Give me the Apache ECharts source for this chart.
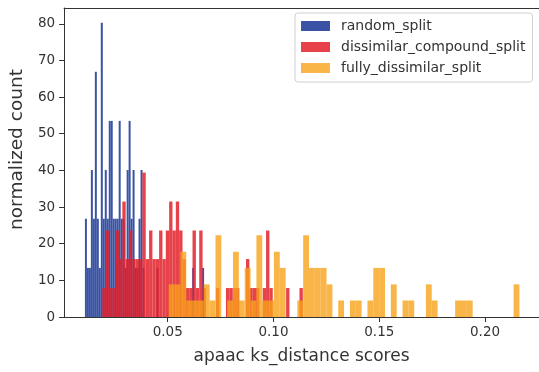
<!DOCTYPE html>
<html>
<head>
<meta charset="utf-8">
<script src="https://cdn.jsdelivr.net/npm/echarts@6/dist/echarts.min.js"></script>
<style>html,body{margin:0;padding:0;background:#fff}#c{width:539px;height:372px}</style>
</head>
<body>
<div id="c"></div>
<script>
// Series names
const seriesNames = ['random_split', 'dissimilar_compound_split', 'fully_dissimilar_split'];

// Histogram bins: first edge and bin width (x units = ks distance)
const randomStart = 0.01085, randomWidth = 0.000939;
const compoundStart = 0.01906, compoundWidth = 0.00158;
const fullyStart = 0.05047, fullyWidth = 0.002763;

// Normalized counts per bin (60 bins each)
const randomHeights = [26.8,13.4,13.4,40.1,26.8,66.9,26.8,13.4,80.3,26.8,
  40.1,26.8,53.5,53.5,26.8,26.8,26.8,53.5,26.8,26.8,
  13.4,40.1,53.5,26.8,40.1,13.4,13.4,26.8,40.1,13.4,
  0,0,0,0,0,0,13.4,0,0,0,
  0,0,0,0,0,0,0,0,0,0,
  0,0,0,0,13.4,0,0,0,0,13.4];
const compoundHeights = [7.9,23.6,7.9,7.9,23.6,15.8,31.5,15.8,23.6,15.8,
  15.8,15.8,39.4,15.8,23.6,15.8,15.8,23.6,15.8,23.6,
  31.5,23.6,31.5,23.6,15.8,7.9,7.9,23.6,7.9,23.6,
  7.9,0,0,0,7.9,0,0,7.9,7.9,7.9,
  7.9,0,0,15.8,7.9,7.9,7.9,0,7.9,23.6,
  7.9,0,0,0,0,7.9,0,0,0,7.9];
const fullyHeights = [8.9,8.9,17.8,4.5,4.5,4.5,8.9,4.5,22.3,0,
  4.5,17.8,4.5,13.4,4.5,22.3,4.5,4.5,17.8,13.4,
  0,0,4.5,22.3,13.4,13.4,13.4,8.9,0,4.5,
  0,4.5,4.5,0,4.5,13.4,13.4,0,8.9,0,
  4.5,4.5,0,0,8.9,4.5,0,0,0,4.5,
  4.5,4.5,0,0,0,0,0,0,0,8.9];

// Axis ticks
const xTicks = [0.05, 0.10, 0.15, 0.20];
const yTicks = [0, 10, 20, 30, 40, 50, 60, 70, 80];

function toBins(start, width, heights) {
  return heights.map((h, i) => [start + i * width, start + (i + 1) * width, h]);
}

const colors = ['#3a53a4', '#e3202a', '#f7a31a'];
const opac = [1, 0.85, 0.8];

function renderItem(params, api) {
  const p0 = api.coord([api.value(0), api.value(2)]);
  const p1 = api.coord([api.value(1), 0]);
  return {
    type: 'rect',
    shape: { x: p0[0], y: p0[1], width: p1[0] - p0[0], height: p1[1] - p0[1] },
    style: api.style()
  };
}

const datasets = [
  toBins(randomStart, randomWidth, randomHeights),
  toBins(compoundStart, compoundWidth, compoundHeights),
  toBins(fullyStart, fullyWidth, fullyHeights)
];

const font = 'DejaVu Sans';
const chart = echarts.init(document.getElementById('c'), null, { renderer: 'canvas' });
chart.setOption({
  animation: false,
  textStyle: { fontFamily: font },
  grid: { left: 63, right: 0, top: 8, bottom: 55 },
  legend: {
    orient: 'vertical',
    left: 295, top: 13,
    padding: [5, 7, 6, 6],
    itemWidth: 29, itemHeight: 10, itemGap: 5,
    borderColor: '#d0d0d0', borderWidth: 1, borderRadius: 3,
    backgroundColor: 'rgba(255,255,255,0.8)',
    icon: 'rect',
    textStyle: { fontFamily: font, fontSize: 14, color: '#333', lineHeight: 16, padding: [0, 0, 0, 6] },
    data: seriesNames.map((n, i) => ({ name: n, itemStyle: { color: colors[i], opacity: opac[i] } }))
  },
  xAxis: [{
    type: 'value', min: 0.001, max: 0.2255,
    name: 'apaac ks_distance scores', nameLocation: 'middle', nameGap: 31,
    nameTextStyle: { fontFamily: font, fontSize: 17, color: '#333' },
    axisLine: { show: true, onZero: false, lineStyle: { color: '#333', width: 1 } },
    axisTick: { show: true, length: 5, lineStyle: { color: '#333' }, customValues: xTicks },
    axisLabel: { fontFamily: font, fontSize: 13.5, color: '#333', margin: 8, customValues: xTicks,
      formatter: v => v.toFixed(2) },
    splitLine: { show: false }
  }, {
    type: 'value', position: 'top', min: 0.001, max: 0.2255,
    axisLine: { show: true, onZero: false, lineStyle: { color: '#333', width: 1 } },
    axisTick: { show: false }, axisLabel: { show: false }, splitLine: { show: false }
  }],
  yAxis: {
    type: 'value', min: 0, max: 84.3,
    name: 'normalized count', nameLocation: 'middle', nameGap: 34,
    nameTextStyle: { fontFamily: font, fontSize: 18.5, color: '#333', padding: [0, 0, 0, 26] },
    axisLine: { show: true, lineStyle: { color: '#333', width: 1 } },
    axisTick: { show: true, length: 5, lineStyle: { color: '#333' }, customValues: yTicks },
    axisLabel: { fontFamily: font, fontSize: 13.5, color: '#333', margin: 9, customValues: yTicks },
    splitLine: { show: false }
  },
  series: seriesNames.map((n, i) => ({
    name: n,
    type: 'custom',
    renderItem: renderItem,
    encode: { x: [0, 1], y: 2 },
    itemStyle: { color: colors[i], opacity: opac[i] },
    data: datasets[i]
  }))
});
</script>
</body>
</html>
